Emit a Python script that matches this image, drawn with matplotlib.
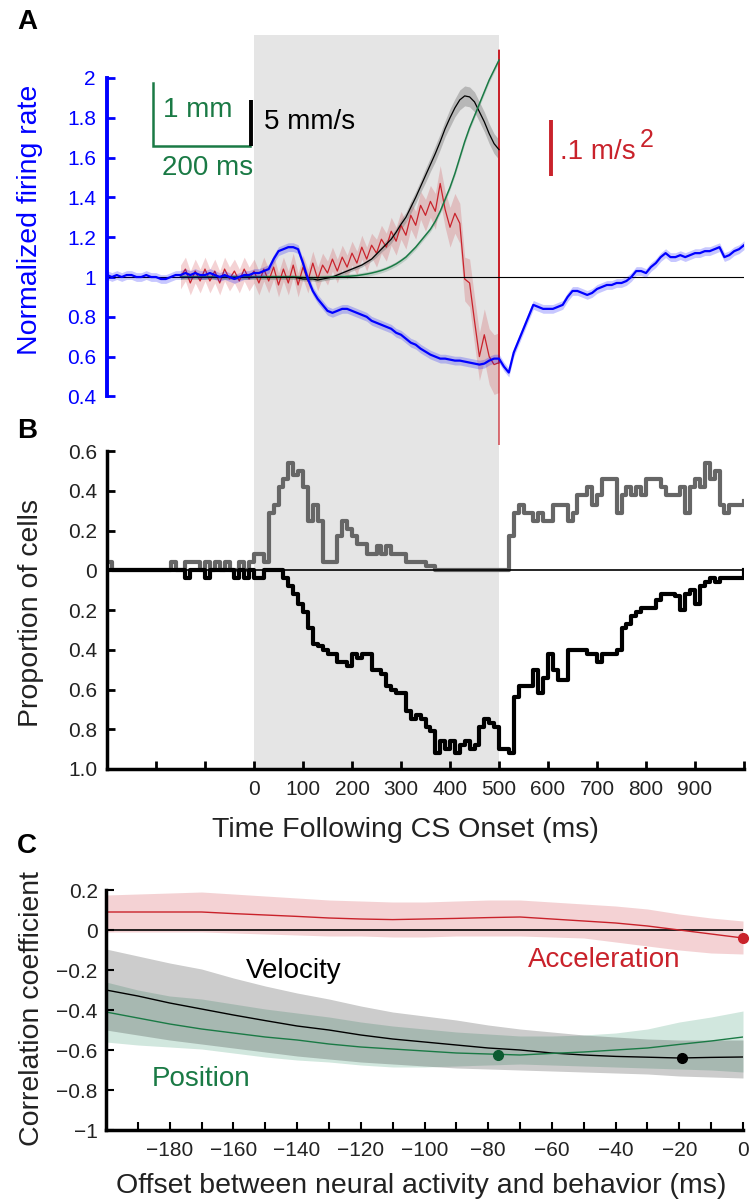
import numpy as np
import matplotlib
matplotlib.use("Agg")
import matplotlib.pyplot as plt

plt.rcParams['font.family'] = ['Liberation Sans', 'DejaVu Sans']

W, H = 753, 1204

# ---------------- Panel A: firing rate and eye kinematics (ms from CS onset)
t_rate = np.arange(-300, 1001, 10)
firing_rate = [
    1.01, 1.00, 1.01, 1.00, 1.01, 1.01, 1.00, 1.00, 1.01, 1.00,   # -300
    1.00, 0.99, 0.99, 1.00, 1.01, 1.01, 1.02, 1.01, 1.02, 1.01,   # -200
    1.01, 1.02, 1.01, 1.00, 1.01, 1.00, 0.99, 1.00, 1.01, 1.01,   # -100
    1.02, 1.02, 1.03, 1.04, 1.09, 1.13, 1.14, 1.15, 1.15, 1.14,   # 0
    1.07, 0.99, 0.93, 0.89, 0.86, 0.83, 0.82, 0.83, 0.84, 0.84,   # 100
    0.83, 0.82, 0.81, 0.80, 0.78, 0.77, 0.76, 0.75, 0.74, 0.72,   # 200
    0.71, 0.69, 0.67, 0.66, 0.64, 0.625, 0.61, 0.60, 0.59, 0.59,  # 300
    0.585, 0.58, 0.58, 0.575, 0.57, 0.565, 0.56, 0.565, 0.58, 0.59,  # 400
    0.59, 0.55, 0.52, 0.62, 0.68, 0.74, 0.80, 0.86, 0.85, 0.84,   # 500
    0.84, 0.84, 0.85, 0.86, 0.90, 0.93, 0.93, 0.92, 0.91, 0.92,   # 600
    0.94, 0.95, 0.96, 0.96, 0.97, 0.97, 0.98, 1.00, 1.03, 1.03,   # 700
    1.02, 1.05, 1.07, 1.10, 1.12, 1.10, 1.10, 1.11, 1.10, 1.11,   # 800
    1.12, 1.12, 1.13, 1.13, 1.14, 1.15, 1.10, 1.11, 1.13, 1.14,   # 900
    1.16,
]
rate_sem = 0.022

t_kin = np.arange(-150, 501, 10)
acceleration = [
    1.00, 1.04, 0.97, 1.03, 0.98, 1.04, 0.98, 1.03, 0.97, 1.04,   # -150
    0.99, 1.03, 0.98, 1.04, 0.99, 1.03, 0.97, 1.04, 0.98, 1.05,   # -50
    0.96, 1.04, 0.97, 1.06, 0.96, 1.05, 0.98, 1.07, 0.99, 1.06,   # 50
    1.02, 1.09, 1.03, 1.10, 1.05, 1.12, 1.07, 1.15, 1.09, 1.16,   # 150
    1.12, 1.19, 1.15, 1.23, 1.18, 1.26, 1.21, 1.31, 1.26, 1.36,   # 250
    1.31, 1.38, 1.33, 1.47, 1.34, 1.25, 1.32, 1.27, 0.99, 0.97,   # 350
    0.78, 0.60, 0.71, 0.60, 0.56, 0.57,                           # 450
]
# trace runs off scale at the end of the movement
accel_tail = [2.14, -0.5]
accel_sem = [0.06] * 40 + [0.07] * 10 + [
    0.08, 0.08, 0.09, 0.09, 0.09, 0.10, 0.10, 0.10, 0.11, 0.12,
    0.12, 0.12, 0.13, 0.14, 0.15, 0.15,
]
velocity = [1.0] * 20 + [
    1.0, 1.0, 1.0, 1.0, 0.995, 0.99, 0.99, 0.99, 0.985, 0.99,
    0.995, 1.0, 1.01, 1.02, 1.03, 1.04, 1.05, 1.06, 1.075, 1.09,
    1.115, 1.14, 1.165, 1.19, 1.225, 1.265, 1.30, 1.35, 1.40, 1.455,
    1.51, 1.565, 1.62, 1.68, 1.745, 1.80, 1.85, 1.89, 1.91, 1.905,
    1.88, 1.83, 1.78, 1.72, 1.67, 1.64,
]
vel_sem = [0.01] * 40 + [
    0.015, 0.015, 0.02, 0.02, 0.02, 0.025, 0.025, 0.03, 0.03, 0.03,
    0.035, 0.035, 0.04, 0.04, 0.04, 0.045, 0.045, 0.05, 0.05, 0.05,
    0.05, 0.05, 0.05, 0.05, 0.05, 0.05,
]
position = [1.0] * 20 + [
    1.0, 1.0, 1.0, 1.0, 1.0, 0.998, 0.997, 0.997, 0.997, 0.998,
    0.999, 1.0, 1.001, 1.002, 1.003, 1.005, 1.007, 1.011, 1.015, 1.02,
    1.026, 1.033, 1.042, 1.053, 1.066, 1.082, 1.10, 1.125, 1.15, 1.18,
    1.21, 1.24, 1.28, 1.33, 1.39, 1.45, 1.52, 1.60, 1.68, 1.75,
    1.81, 1.87, 1.93, 1.99, 2.04, 2.09,
]
pos_sem = 0.012

# ---------------- Panel B: proportion of cells increasing / decreasing
t_prop = np.arange(-300, 1001, 10)
prop_increase = [
    0.04, 0, 0, 0, 0, 0, 0, 0, 0, 0,                              # -300
    0, 0, 0, 0.04, 0, 0, 0.04, 0.04, 0.04, 0,                     # -200
    0.04, 0, 0.04, 0, 0.04, 0, 0, 0.04, 0, 0.04,                  # -100
    0.08, 0.08, 0.04, 0.29, 0.33, 0.42, 0.46, 0.54, 0.48, 0.50,   # 0
    0.42, 0.25, 0.33, 0.25, 0.04, 0.04, 0.04, 0.17, 0.25, 0.21,   # 100
    0.17, 0.13, 0.13, 0.08, 0.08, 0.12, 0.08, 0.12, 0.08, 0.08,   # 200
    0.08, 0.04, 0.04, 0.04, 0.04, 0.02, 0.02, 0, 0, 0,            # 300
    0, 0, 0, 0, 0, 0, 0, 0, 0, 0,                                 # 400
    0, 0, 0.17, 0.29, 0.33, 0.29, 0.29, 0.25, 0.29, 0.25,         # 500
    0.25, 0.33, 0.33, 0.33, 0.25, 0.29, 0.38, 0.38, 0.42, 0.33,   # 600
    0.38, 0.46, 0.46, 0.46, 0.29, 0.38, 0.42, 0.38, 0.42, 0.38,   # 700
    0.46, 0.46, 0.46, 0.42, 0.38, 0.38, 0.38, 0.42, 0.29, 0.42,   # 800
    0.46, 0.42, 0.54, 0.46, 0.50, 0.33, 0.29, 0.33, 0.33, 0.33,   # 900
    0.35,
]
prop_decrease = [
    0, 0, 0, 0, 0, 0, 0, 0, 0, 0,                                 # -300
    0, 0, 0, 0, 0, 0, 0.04, 0, 0, 0,                              # -200
    0.04, 0, 0, 0, 0, 0, 0.04, 0, 0.04, 0,                        # -100
    0.04, 0.04, 0, 0, 0, 0, 0.04, 0.08, 0.12, 0.17,               # 0
    0.21, 0.29, 0.37, 0.38, 0.40, 0.42, 0.42, 0.46, 0.46, 0.48,   # 100
    0.42, 0.44, 0.42, 0.42, 0.50, 0.50, 0.52, 0.58, 0.60, 0.62,   # 200
    0.62, 0.71, 0.75, 0.73, 0.75, 0.79, 0.81, 0.92, 0.86, 0.90,   # 300
    0.86, 0.92, 0.88, 0.86, 0.90, 0.88, 0.79, 0.75, 0.77, 0.79,   # 400
    0.90, 0.90, 0.92, 0.64, 0.58, 0.58, 0.58, 0.50, 0.62, 0.54,   # 500
    0.42, 0.50, 0.55, 0.55, 0.40, 0.40, 0.40, 0.40, 0.42, 0.42,   # 600
    0.46, 0.42, 0.42, 0.42, 0.40, 0.29, 0.27, 0.23, 0.21, 0.19,   # 700
    0.19, 0.19, 0.15, 0.12, 0.12, 0.12, 0.13, 0.20, 0.12, 0.10,   # 800
    0.17, 0.08, 0.06, 0.04, 0.06, 0.04, 0.04, 0.04, 0.04, 0.04,   # 900
    0.0,
]

# ---------------- Panel C: correlation vs. neural-behavior offset
offsets = np.arange(-200, 1, 10)
r_acc = [0.09, 0.09, 0.09, 0.09, 0.082, 0.075, 0.068, 0.06, 0.055, 0.052,
         0.055, 0.058, 0.062, 0.065, 0.055, 0.045, 0.035, 0.02, 0.0, -0.02, -0.04]
r_acc_hi = [0.175, 0.18, 0.185, 0.19, 0.18, 0.17, 0.16, 0.15, 0.145, 0.14,
            0.14, 0.145, 0.15, 0.15, 0.14, 0.13, 0.12, 0.105, 0.08, 0.06, 0.045]
r_acc_lo = [-0.01, -0.01, -0.01, -0.01, -0.015, -0.02, -0.025, -0.03, -0.03, -0.035,
            -0.035, -0.03, -0.03, -0.03, -0.035, -0.04, -0.06, -0.08, -0.1, -0.115, -0.12]
r_vel = [-0.30, -0.33, -0.365, -0.395, -0.425, -0.453, -0.48, -0.50, -0.525, -0.545,
         -0.56, -0.575, -0.59, -0.60, -0.615, -0.625, -0.632, -0.636, -0.64, -0.637, -0.635]
r_vel_hi = [-0.095, -0.13, -0.165, -0.195, -0.24, -0.28, -0.315, -0.345, -0.38, -0.41,
            -0.43, -0.45, -0.475, -0.495, -0.51, -0.525, -0.535, -0.545, -0.55, -0.55, -0.55]
r_vel_lo = [-0.50, -0.525, -0.55, -0.57, -0.59, -0.61, -0.63, -0.645, -0.66, -0.67,
            -0.68, -0.69, -0.695, -0.70, -0.705, -0.71, -0.715, -0.72, -0.73, -0.735, -0.74]
r_pos = [-0.41, -0.44, -0.47, -0.495, -0.515, -0.535, -0.55, -0.57, -0.585, -0.595,
         -0.605, -0.615, -0.62, -0.625, -0.617, -0.61, -0.60, -0.59, -0.572, -0.555, -0.535]
r_pos_hi = [-0.26, -0.30, -0.33, -0.345, -0.37, -0.395, -0.415, -0.435, -0.46, -0.48,
            -0.495, -0.51, -0.52, -0.53, -0.53, -0.525, -0.515, -0.495, -0.46, -0.435, -0.405]
r_pos_lo = [-0.56, -0.575, -0.585, -0.595, -0.615, -0.635, -0.65, -0.66, -0.675, -0.685,
            -0.685, -0.68, -0.675, -0.67, -0.675, -0.68, -0.685, -0.69, -0.695, -0.70, -0.71]
# best offsets (ms, r)
peak_pos = (-77, -0.625)
peak_vel = (-19, -0.64)
peak_acc = (0, -0.04)

BLUE = '#0000ff'
RED = '#c9222b'
GREEN = '#1a7a45'
DKGREEN = '#0b5a30'
TXT = '#222222'
SHADE = '#e5e5e5'


def px_axes(fig, x0, y0, x1, y1):
    """Add axes from pixel box (top-left origin)."""
    return fig.add_axes([x0 / W, 1 - y1 / H, (x1 - x0) / W, (y1 - y0) / H])


fig = plt.figure(figsize=(W / 100, H / 100), dpi=100)

# CS period shading behind panels A and B
bg = px_axes(fig, 107, 35, 744, 769)
bg.set_xlim(-300, 1000)
bg.axvspan(0, 500, color=SHADE, lw=0)
bg.axis('off')

# ---- A
ax_a = px_axes(fig, 107, 35, 744, 445)
ax_a.patch.set_visible(False)
ax_a.set_xlim(-300, 1000)
ax_a.set_ylim(0.156, 2.216)

acc = np.array(acceleration)
acc_err = np.array(accel_sem)
ax_a.fill_between(t_kin, acc - acc_err, acc + acc_err, color=RED, alpha=0.2, lw=0)
ax_a.plot(np.r_[t_kin, 500, 500], np.r_[acc, accel_tail], color=RED, lw=0.9)

vel = np.array(velocity)
vel_err = np.array(vel_sem)
ax_a.fill_between(t_kin, vel - vel_err, vel + vel_err, color='#808080', alpha=0.45, lw=0)
ax_a.plot(t_kin, vel, color='k', lw=0.9)

pos = np.array(position)
ax_a.fill_between(t_kin, pos - pos_sem, pos + pos_sem, color='#6a9a80', alpha=0.3, lw=0)
ax_a.plot(t_kin, pos, color=GREEN, lw=1.1)

ax_a.axhline(1, color='k', lw=0.8, zorder=2.5)

fr = np.array(firing_rate)
ax_a.fill_between(t_rate, fr - rate_sem, fr + rate_sem, color=BLUE, alpha=0.22, lw=0, zorder=3)
ax_a.plot(t_rate, fr, color=BLUE, lw=1.6, zorder=3.5)

for s in ['top', 'right', 'bottom']:
    ax_a.spines[s].set_visible(False)
ax_a.spines['left'].set_bounds(0.4, 2)
ax_a.spines['left'].set_color(BLUE)
ax_a.spines['left'].set_linewidth(2.8)
ax_a.set_xticks([])
a_ticks = np.arange(0.4, 2.01, 0.2)
ax_a.set_yticks(a_ticks)
ax_a.set_yticklabels(['0.4', '0.6', '0.8', '1', '1.2', '1.4', '1.6', '1.8', '2'])
ax_a.tick_params(axis='y', direction='in', colors=BLUE, length=6, width=2,
                 labelsize=15, pad=8)
ax_a.set_ylabel('Normalized firing rate', color=BLUE, fontsize=20.5, va='center')
ax_a.yaxis.set_label_coords(-0.121, 0.549)

# scale bars
ax_a.plot([-207, -207, -8], [1.975, 1.658, 1.658], color=GREEN, lw=1.8,
          solid_joinstyle='miter')
ax_a.plot([-6, -6], [1.658, 1.89], color='k', lw=2.8, solid_capstyle='butt')
ax_a.plot([607, 607], [1.508, 1.789], color=RED, lw=2.8, solid_capstyle='butt')
ax_a.text(-185, 1.84, '1 mm', color=GREEN, fontsize=20, va='center')
ax_a.text(-187, 1.55, '200 ms', color=GREEN, fontsize=20, va='center')
ax_a.text(20, 1.78, '5 mm/s', color='k', fontsize=20, va='center')
ax_a.text(624, 1.627, '.1 m/s', color=RED, fontsize=20, va='center')
ax_a.text(788, 1.69, '2', color=RED, fontsize=18, va='center')

# ---- B
ax_b = px_axes(fig, 107, 451, 744, 769)
ax_b.patch.set_visible(False)
ax_b.set_xlim(-300, 1000)
ax_b.set_ylim(-1.0, 0.6)
ax_b.step(t_prop, prop_increase, where='post', color='#666666', lw=3)
ax_b.step(t_prop, -np.array(prop_decrease), where='post', color='k', lw=3)
ax_b.axhline(0, color='k', lw=1.2, zorder=2.6)
for s in ['top', 'right']:
    ax_b.spines[s].set_visible(False)
for s in ['left', 'bottom']:
    ax_b.spines[s].set_linewidth(2.5)
b_xt = np.arange(-200, 1001, 100)
ax_b.set_xticks(b_xt)
ax_b.set_xticklabels([str(v) if 0 <= v <= 900 else '' for v in b_xt])
ax_b.set_yticks(np.arange(-1.0, 0.61, 0.2))
ax_b.set_yticklabels(['1.0', '0.8', '0.6', '0.4', '0.2', '0', '0.2', '0.4', '0.6'])
ax_b.tick_params(direction='in', length=6, width=2, labelsize=15, colors='k',
                 labelcolor=TXT)
ax_b.tick_params(axis='x', pad=8)
ax_b.tick_params(axis='y', pad=7)
ax_b.set_ylabel('Proportion of cells', fontsize=20.5, color=TXT, va='center')
ax_b.yaxis.set_label_coords(-0.119, 0.49)
ax_b.set_xlabel('Time Following CS Onset (ms)', fontsize=20.5, color=TXT, va='center')
ax_b.xaxis.set_label_coords(0.468, -0.192)

# ---- C
ax_c = px_axes(fig, 106, 890, 743, 1130)
ax_c.set_xlim(-200, 0)
ax_c.set_ylim(-1, 0.2)
ax_c.fill_between(offsets, r_acc_lo, r_acc_hi, color=RED, alpha=0.2, lw=0)
ax_c.fill_between(offsets, r_pos_lo, r_pos_hi, color='#1a8a5a', alpha=0.2, lw=0)
ax_c.fill_between(offsets, r_vel_lo, r_vel_hi, color='k', alpha=0.2, lw=0)
ax_c.axhline(0, color='k', lw=1.2)
ax_c.plot(offsets, r_acc, color=RED, lw=1)
ax_c.plot(offsets, r_vel, color='k', lw=1)
ax_c.plot(offsets, r_pos, color=GREEN, lw=1)
ax_c.plot(*peak_pos, 'o', color=DKGREEN, ms=7, clip_on=False, zorder=5)
ax_c.plot(*peak_vel, 'o', color='k', ms=7, clip_on=False, zorder=5)
ax_c.plot(*peak_acc, 'o', color=RED, ms=7, clip_on=False, zorder=5)
ax_c.text(-141, -0.205, 'Velocity', color='k', fontsize=20, ha='center', va='center')
ax_c.text(-170, -0.745, 'Position', color=GREEN, fontsize=20, ha='center', va='center')
ax_c.text(-43.6, -0.15, 'Acceleration', color=RED, fontsize=20, ha='center', va='center')

for s in ['top', 'right']:
    ax_c.spines[s].set_visible(False)
for s in ['left', 'bottom']:
    ax_c.spines[s].set_linewidth(2.5)
c_xt = np.arange(-190, 1, 10)
ax_c.set_xticks(c_xt)
ax_c.set_xticklabels([('\u2212%d' % -v if v < 0 else '0') if v % 20 == 0 else ''
                      for v in c_xt])
ax_c.set_yticks(np.arange(-1.0, 0.21, 0.2))
ax_c.set_yticklabels(['\u22121', '\u22120.8', '\u22120.6', '\u22120.4', '\u22120.2',
                      '0', '0.2'])
ax_c.tick_params(direction='in', length=6, width=1.5, labelsize=15, colors='k',
                 labelcolor=TXT)
ax_c.tick_params(axis='x', pad=8)
ax_c.tick_params(axis='y', pad=6)
ax_c.set_ylabel('Correlation coefficient', fontsize=20.5, color=TXT, va='center')
ax_c.yaxis.set_label_coords(-0.116, 0.508)
ax_c.set_xlabel('Offset between neural activity and behavior (ms)', fontsize=20.5,
                color=TXT, va='center')
ax_c.xaxis.set_label_coords(0.4945, -0.233)

# panel letters
for letter, y in [('A', 22), ('B', 431), ('C', 846)]:
    fig.text(27 / W, 1 - y / H, letter, fontsize=20, fontweight='bold',
             ha='center', va='center')

fig.savefig('out.png', dpi=100)
